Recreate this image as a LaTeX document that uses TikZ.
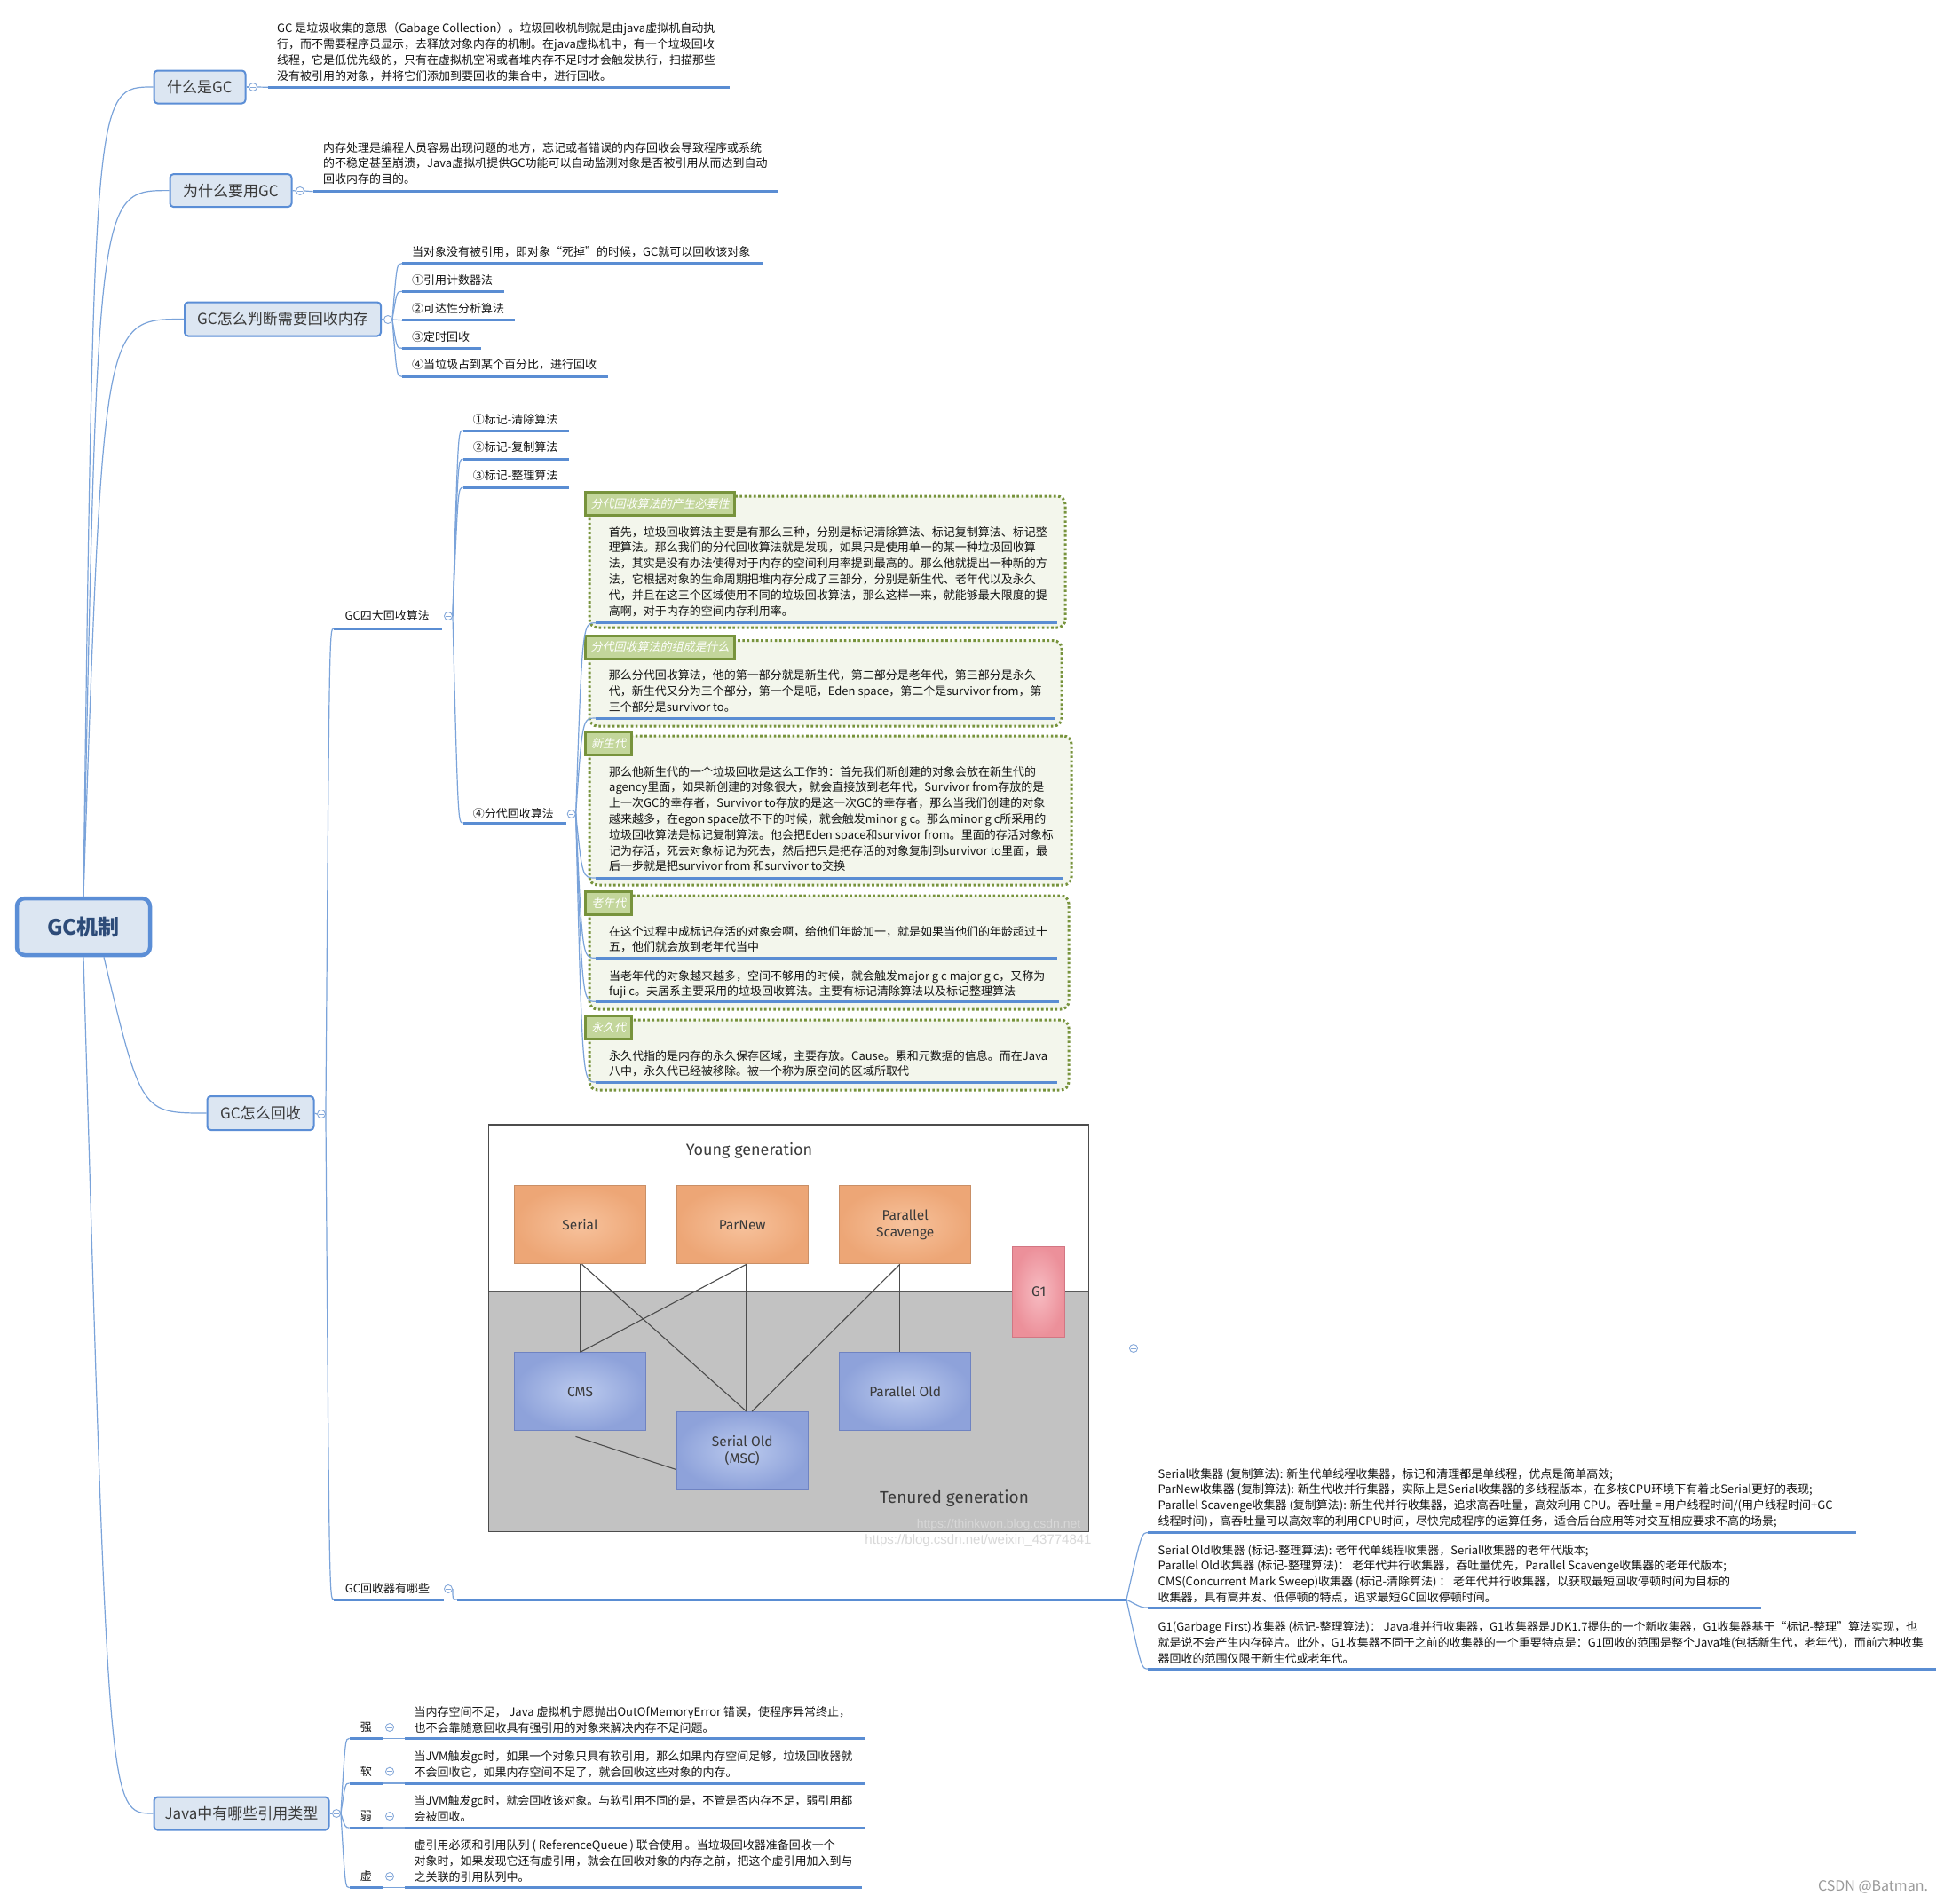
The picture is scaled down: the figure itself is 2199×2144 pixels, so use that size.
\documentclass[tikz,border=0pt]{standalone}
\usepackage{fontspec}
\setmainfont{Noto Sans CJK SC}
\newfontfamily\cjkit[FakeSlant=0.22]{Noto Sans CJK SC}
\newfontfamily\imgfont{Fira Sans}
\newfontfamily\wmfont{Liberation Sans}
\definecolor{linkc}{HTML}{7AA3DA}
\definecolor{ulc}{HTML}{5A8DD3}
\definecolor{boxf}{HTML}{DCE6F2}
\definecolor{boxd}{HTML}{5B8ED6}
\definecolor{roottext}{HTML}{2D4B78}
\definecolor{lbltext}{HTML}{3A3A3A}
\definecolor{desctext}{HTML}{141414}
\definecolor{togc}{HTML}{86A9DA}
\definecolor{bgreen}{HTML}{77933C}
\definecolor{bfill}{HTML}{F3F6EC}
\definecolor{lfill}{HTML}{C3D69B}
\definecolor{imggray}{HTML}{C2C2C2}
\definecolor{imgtext}{HTML}{3A3A3A}
\definecolor{orin}{HTML}{F7C29C}
\definecolor{orout}{HTML}{EDA676}
\definecolor{ord}{HTML}{C98F66}
\definecolor{blin}{HTML}{BBCAEE}
\definecolor{blout}{HTML}{8EA2DA}
\definecolor{bld}{HTML}{6F83C2}
\definecolor{pkin}{HTML}{F7BCC2}
\definecolor{pkout}{HTML}{EC909A}
\definecolor{pkd}{HTML}{D27683}
\definecolor{wmc}{HTML}{D8D8D8}
\newcommand\descfont{\fontsize{13}{17.8}\selectfont}
\newcommand\collfont{\fontsize{13}{17.8}\selectfont}
\begin{document}
\begin{tikzpicture}[x=1pt,y=-1pt,
  link/.style={draw=linkc, line width=1.2pt},
  ul/.style={draw=ulc, line width=3pt},
  rootbox/.style={draw=boxd, fill=boxf, line width=4.5pt, rounded corners=9pt,
    font=\fontsize{24}{26}\selectfont\bfseries, text=roottext, inner sep=0pt},
  lvlone/.style={draw=boxd, fill=boxf, line width=2pt, rounded corners=4pt,
    font=\fontsize{17}{19}\selectfont, text=lbltext, inner sep=0pt},
  tog/.style={circle, draw=togc, fill=white, line width=0.9pt, minimum size=9pt, inner sep=0pt,
    path picture={\draw[togc, line width=0.9pt] ([xshift=-2.6pt]path picture bounding box.center) -- ([xshift=2.6pt]path picture bounding box.center);}},
  item/.style={anchor=west, inner sep=0pt, font=\descfont, text=desctext},
  desc/.style={anchor=north west, inner sep=0pt, align=left, font=\descfont, text=desctext},
  coll/.style={anchor=north west, inner sep=0pt, align=left, font=\collfont, text=desctext},
  blabel/.style={draw=bgreen, fill=lfill, line width=3pt, inner sep=0pt,
    font=\cjkit\fontsize{13}{15}\selectfont, text=white},
  bound/.style={draw=bgreen, fill=bfill, line width=3pt, dash pattern=on 2.6pt off 2.6pt, rounded corners=9pt},
  obox/.style={draw=ord, line width=1pt, inner color=orin, outer color=orout,
    minimum width=148pt, minimum height=88pt, align=center,
    font=\imgfont\fontsize{15.5}{19}\selectfont, text=imgtext},
  bbox/.style={obox, draw=bld, inner color=blin, outer color=blout},
  iline/.style={draw=black!70, line width=1.1pt}
]
\useasboundingbox (0,0) rectangle (2199,2144);
\fill[white] (0,0) rectangle (2199,2144);

% ---------- boundaries (green dotted groups) ----------
\draw[bound] (664,559) rectangle (1200,707);
\draw[bound] (664,721.7) rectangle (1196,818);
\draw[bound] (664,829) rectangle (1207,997);
\draw[bound] (664,1009) rectangle (1204,1137);
\draw[bound] (664,1149) rectangle (1204,1228);
\node[blabel, minimum width=168pt, minimum height=26pt] (lab1) at (743.5,567.5) {分代回收算法的产生必要性};
\node[blabel, minimum width=168pt, minimum height=26pt] (lab2) at (743.5,729) {分代回收算法的组成是什么};
\node[blabel, minimum width=52pt, minimum height=26pt] (lab3) at (685.5,837.5) {新生代};
\node[blabel, minimum width=52pt, minimum height=26pt] (lab4) at (685.5,1017.5) {老年代};
\node[blabel, minimum width=52pt, minimum height=26pt] (lab5) at (685.5,1157.5) {永久代};

% ---------- root and level one ----------
\node[rootbox, minimum width=150pt, minimum height=64pt] (root) at (94,1044) {GC机制};
\node[lvlone, minimum width=103pt, minimum height=37pt] (n1) at (225,98) {什么是GC};
\node[lvlone, minimum width=137pt, minimum height=37pt] (n2) at (260,214.6) {为什么要用GC};
\node[lvlone, minimum width=221pt, minimum height=38pt] (n3) at (318.5,359.5) {GC怎么判断需要回收内存};
\node[lvlone, minimum width=120pt, minimum height=38pt] (n4) at (293.5,1254) {GC怎么回收};
\node[lvlone, minimum width=197pt, minimum height=37pt] (n5) at (272,2043) {Java中有哪些引用类型};

\draw[link] (root.north) .. controls (106,98) .. (n1.west);
\draw[link] (root.north) .. controls (110,214.6) .. (n2.west);
\draw[link] (root.north) .. controls (116,359.5) .. (n3.west);
\draw[link] ([xshift=23pt]root.south) .. controls (159,1254) .. (n4.west);
\draw[link] (root.south) .. controls (122,2043) .. (n5.west);

\node[tog] (t1) at (285,98) {};
\node[tog] (t2) at (338,215) {};
\node[tog] (t3) at (437,360) {};
\node[tog] (t4) at (362,1255) {};
\node[tog] (t5) at (379,2043) {};
\draw[link] (n1.east) -- (t1.west);
\draw[link] (n2.east) -- (t2.west);
\draw[link] (n3.east) -- (t3.west);
\draw[link] (n4.east) -- (t4.west);
\draw[link] (n5.east) -- (t5.west);

% ---------- 什么是GC ----------
\coordinate (d1s) at (302,98.3);
\draw[link] (t1.east) -- (d1s);
\draw[ul] (d1s) -- (822,98.3);
\node[desc] (d1) at (312,24.2) {\strut GC 是垃圾收集的意思（Gabage Collection）。垃圾回收机制就是由java虚拟机自动执\\行，而不需要程序员显示，去释放对象内存的机制。在java虚拟机中，有一个垃圾回收\\线程，它是低优先级的，只有在虚拟机空闲或者堆内存不足时才会触发执行，扫描那些\\没有被引用的对象，并将它们添加到要回收的集合中，进行回收。};

% ---------- 为什么要用GC ----------
\coordinate (d2s) at (352.5,215.7);
\draw[link] (t2.east) -- (d2s);
\draw[ul] (d2s) -- (876,215.7);
\node[desc] (d2) at (364,158.5) {\strut 内存处理是编程人员容易出现问题的地方，忘记或者错误的内存回收会导致程序或系统\\的不稳定甚至崩溃，Java虚拟机提供GC功能可以自动监测对象是否被引用从而达到自动\\回收内存的目的。};

% ---------- GC怎么判断需要回收内存 ----------
\coordinate (c1u) at (453,296.7);
\coordinate (c2u) at (453,328.3);
\coordinate (c3u) at (453,360.7);
\coordinate (c4u) at (453,392.3);
\coordinate (c5u) at (453,424.3);
\draw[link] (t3.east) .. controls (447,296.7) .. (c1u);
\draw[link] (t3.east) .. controls (447,328.3) .. (c2u);
\draw[link] (t3.east) .. controls (447,360.7) .. (c3u);
\draw[link] (t3.east) .. controls (447,392.3) .. (c4u);
\draw[link] (t3.east) .. controls (447,424.3) .. (c5u);
\draw[ul] (c1u) -- (858.6,296.7);
\draw[ul] (c2u) -- (567.5,328.3);
\draw[ul] (c3u) -- (580,360.7);
\draw[ul] (c4u) -- (541.6,392.3);
\draw[ul] (c5u) -- (684.5,424.3);
\node[item] (c1) at (464,283.3) {当对象没有被引用，即对象“死掉”的时候，GC就可以回收该对象};
\node[item] (c2) at (464,315.7) {①引用计数器法};
\node[item] (c3) at (464,347.3) {②可达性分析算法};
\node[item] (c4) at (464,379.3) {③定时回收};
\node[item] (c5) at (464,411) {④当垃圾占到某个百分比，进行回收};

% ---------- GC怎么回收 ----------
\coordinate (g1u) at (376,708);
\coordinate (g2u) at (376,1802);
\draw[link] (t4.east) .. controls (371,708) .. (g1u);
\draw[link] (t4.east) .. controls (371,1802) .. (g2u);
\draw[ul] (g1u) -- (498,708);
\draw[ul] (g2u) -- (500,1802);
\node[item] (g1) at (388.5,694) {GC四大回收算法};
\node[item] (g2) at (388.6,1790) {GC回收器有哪些};
\node[tog] (tg1) at (505,694) {};
\node[tog] (tg2) at (505,1790) {};

% algorithms
\coordinate (a1u) at (521.5,485);
\coordinate (a2u) at (521.5,517.3);
\coordinate (a3u) at (521.5,549.3);
\coordinate (a4u) at (521.5,927);
\draw[link] (tg1.east) .. controls (516,485) .. (a1u);
\draw[link] (tg1.east) .. controls (516,517.3) .. (a2u);
\draw[link] (tg1.east) .. controls (516,549.3) .. (a3u);
\draw[link] (tg1.east) .. controls (516,927) .. (a4u);
\draw[ul] (a1u) -- (641,485);
\draw[ul] (a2u) -- (641,517.3);
\draw[ul] (a3u) -- (641,549.3);
\draw[ul] (a4u) -- (638,927);
\node[item] (a1) at (532.7,472.3) {①标记-清除算法};
\node[item] (a2) at (532.7,504) {②标记-复制算法};
\node[item] (a3) at (532.7,536) {③标记-整理算法};
\node[item] (a4) at (532.7,917) {④分代回收算法};
\node[tog] (ta4) at (643.7,917) {};

% generational topics
\coordinate (b1u) at (671,701.7);
\coordinate (b2u) at (671,809);
\coordinate (b3u) at (671,989);
\coordinate (b4u) at (671,1079.3);
\coordinate (b5u) at (671,1128.3);
\coordinate (b6u) at (671,1219);
\draw[link] (ta4.east) .. controls (656,701.7) .. (b1u);
\draw[link] (ta4.east) .. controls (656,809) .. (b2u);
\draw[link] (ta4.east) .. controls (656,989) .. (b3u);
\draw[link] (ta4.east) .. controls (656,1079.3) .. (b4u);
\draw[link] (ta4.east) .. controls (656,1128.3) .. (b5u);
\draw[link] (ta4.east) .. controls (656,1219) .. (b6u);
\draw[ul] (b1u) -- (1191,701.7);
\draw[ul] (b2u) -- (1187.5,809);
\draw[ul] (b3u) -- (1197,989);
\draw[ul] (b4u) -- (1191,1079.3);
\draw[ul] (b5u) -- (1193,1128.3);
\draw[ul] (b6u) -- (1191,1219);
\node[desc] (b1) at (685.7,591.5) {\strut 首先，垃圾回收算法主要是有那么三种，分别是标记清除算法、标记复制算法、标记整\\理算法。那么我们的分代回收算法就是发现，如果只是使用单一的某一种垃圾回收算\\法，其实是没有办法使得对于内存的空间利用率提到最高的。那么他就提出一种新的方\\法，它根据对象的生命周期把堆内存分成了三部分，分别是新生代、老年代以及永久\\代，并且在这三个区域使用不同的垃圾回收算法，那么这样一来，就能够最大限度的提\\高啊，对于内存的空间内存利用率。};
\node[desc] (b2) at (685.7,753.2) {\strut 那么分代回收算法，他的第一部分就是新生代，第二部分是老年代，第三部分是永久\\代，新生代又分为三个部分，第一个是呃，Eden space，第二个是survivor from，第\\三个部分是survivor to。};
\node[desc] (b3) at (686,861.5) {\strut 那么他新生代的一个垃圾回收是这么工作的：首先我们新创建的对象会放在新生代的\\agency里面，如果新创建的对象很大，就会直接放到老年代，Survivor from存放的是\\上一次GC的幸存者，Survivor to存放的是这一次GC的幸存者，那么当我们创建的对象\\越来越多，在egon space放不下的时候，就会触发minor g c。那么minor g c所采用的\\垃圾回收算法是标记复制算法。他会把Eden space和survivor from。里面的存活对象标\\记为存活，死去对象标记为死去，然后把只是把存活的对象复制到survivor to里面，最\\后一步就是把survivor from 和survivor to交换};
\node[desc] (b4) at (686,1041.5) {\strut 在这个过程中成标记存活的对象会啊，给他们年龄加一，就是如果当他们的年龄超过十\\五，他们就会放到老年代当中};
\node[desc] (b5) at (686,1091.5) {\strut 当老年代的对象越来越多，空间不够用的时候，就会触发major g c major g c，又称为\\fuji c。夫居系主要采用的垃圾回收算法。主要有标记清除算法以及标记整理算法};
\node[desc] (b6) at (686,1181.5) {\strut 永久代指的是内存的永久保存区域，主要存放。Cause。累和元数据的信息。而在Java\\八中，永久代已经被移除。被一个称为原空间的区域所取代};

% ---------- collector picture ----------
\fill[white] (550.3,1267) rectangle (1226.3,1454.3);
\fill[imggray] (550.3,1454.3) rectangle (1226.3,1725.3);
\draw[black!65, line width=1.2pt] (550.3,1454.3) -- (1226.3,1454.3);
\node[inner sep=0pt, font=\imgfont\fontsize{18}{20}\selectfont, text=imgtext] (yg) at (844,1296) {Young generation};
\node[inner sep=0pt, font=\imgfont\fontsize{19}{21}\selectfont, text=imgtext] (tg) at (1075,1688) {Tenured generation};
\node[obox] (ser) at (653.5,1379.8) {Serial};
\node[obox] (pn) at (836.2,1379.8) {ParNew};
\node[obox] (ps) at (1019.7,1379.8) {Parallel\\Scavenge};
\node[bbox] (cms) at (653.5,1567.9) {CMS};
\node[bbox] (pold) at (1019.7,1567.9) {Parallel Old};
\node[bbox] (sold) at (836.2,1634.5) {Serial Old\\(MSC)};
\node[obox, draw=pkd, inner color=pkin, outer color=pkout, minimum width=59pt, minimum height=102pt] (g1box) at (1170.2,1455) {G1};
\draw[iline] (ser.south) -- (cms.north);
\draw[iline] ([xshift=2pt]ser.south) -- ([xshift=4.6pt]sold.north);
\draw[iline] ([xshift=4.6pt]pn.south) -- (cms.north);
\draw[iline] ([xshift=4.6pt]pn.south) -- ([xshift=4.6pt]sold.north);
\draw[iline] ([xshift=-6pt]ps.south) -- ([xshift=11pt]sold.north);
\draw[iline] ([xshift=-6pt]ps.south) -- ([xshift=-6pt]pold.north);
\draw[iline] ([xshift=-5pt,yshift=-6pt]cms.south) -- ([yshift=-21pt]sold.west);
\draw[black!70, line width=1.5pt] (550.3,1267) rectangle (1226.3,1725.3);
\node[inner sep=0pt, font=\wmfont\fontsize{14}{16}\selectfont, text=wmc] (wm1) at (1125,1718) {https://thinkwon.blog.csdn.net};
\node[inner sep=0pt, font=\wmfont\fontsize{15}{17}\selectfont, text=wmc] (wm2) at (1102,1736) {https://blog.csdn.net/weixin\_43774841};

% ---------- GC回收器有哪些 ----------
\coordinate (g2s) at (515,1802);
\coordinate (g2e) at (1269,1802);
\draw[link] (tg2.east) .. controls (510,1802) .. (g2s);
\draw[ul] (g2s) -- (g2e);
\node[tog] (timg) at (1277,1519) {};
\coordinate (kAu) at (1293,1726.7);
\coordinate (kBu) at (1293,1811);
\coordinate (kCu) at (1293,1880);
\draw[link] (g2e) .. controls (1286,1726.7) .. (kAu);
\draw[link] (g2e) .. controls (1286,1811) .. (kBu);
\draw[link] (g2e) .. controls (1286,1880) .. (kCu);
\draw[ul] (kAu) -- (2091,1726.7);
\draw[ul] (kBu) -- (1983.6,1811);
\draw[ul] (kCu) -- (2181,1880);
\node[coll] (kA) at (1304.5,1652.5) {\strut Serial收集器 (复制算法): 新生代单线程收集器，标记和清理都是单线程，优点是简单高效;\\ParNew收集器 (复制算法): 新生代收并行集器，实际上是Serial收集器的多线程版本，在多核CPU环境下有着比Serial更好的表现;\\Parallel Scavenge收集器 (复制算法): 新生代并行收集器，追求高吞吐量，高效利用 CPU。吞吐量 = 用户线程时间/(用户线程时间+GC\\线程时间)，高吞吐量可以高效率的利用CPU时间，尽快完成程序的运算任务，适合后台应用等对交互相应要求不高的场景;};
\node[coll] (kB) at (1304.5,1738.5) {\strut Serial Old收集器 (标记-整理算法): 老年代单线程收集器，Serial收集器的老年代版本;\\Parallel Old收集器 (标记-整理算法)： 老年代并行收集器，吞吐量优先，Parallel Scavenge收集器的老年代版本;\\CMS(Concurrent Mark Sweep)收集器 (标记-清除算法) ： 老年代并行收集器，以获取最短回收停顿时间为目标的\\收集器，具有高并发、低停顿的特点，追求最短GC回收停顿时间。};
\node[coll] (kC) at (1304.5,1825.2) {\strut G1(Garbage First)收集器 (标记-整理算法)： Java堆并行收集器，G1收集器是JDK1.7提供的一个新收集器，G1收集器基于“标记-整理”算法实现，也\\就是说不会产生内存碎片。此外，G1收集器不同于之前的收集器的一个重要特点是：G1回收的范围是整个Java堆(包括新生代，老年代)，而前六种收集\\器回收的范围仅限于新生代或老年代。};

% ---------- Java references ----------
\coordinate (r1u) at (393.6,1958.3);
\coordinate (r2u) at (393.6,2009);
\coordinate (r3u) at (393.6,2059);
\coordinate (r4u) at (393.6,2126.7);
\draw[link] (t5.east) .. controls (389,1958.3) .. (r1u);
\draw[link] (t5.east) .. controls (389,2009) .. (r2u);
\draw[link] (t5.east) .. controls (389,2059) .. (r3u);
\draw[link] (t5.east) .. controls (389,2126.7) .. (r4u);
\coordinate (r1e) at (430.6,1958.3);
\coordinate (r2e) at (430.6,2009);
\coordinate (r3e) at (430.6,2059);
\coordinate (r4e) at (430.6,2126.7);
\coordinate (r1d) at (456,1958.3);
\coordinate (r2d) at (456,2009);
\coordinate (r3d) at (456,2059);
\coordinate (r4d) at (456,2126.7);
\draw[ul] (r1u) -- (r1e);
\draw[ul] (r2u) -- (r2e);
\draw[ul] (r3u) -- (r3e);
\draw[ul] (r4u) -- (r4e);
\draw[link] (r1e) -- (r1d);
\draw[link] (r2e) -- (r2d);
\draw[link] (r3e) -- (r3d);
\draw[link] (r4e) -- (r4d);
\draw[ul] (r1d) -- (975,1958.3);
\draw[ul] (r2d) -- (975,2009);
\draw[ul] (r3d) -- (975,2059);
\draw[ul] (r4d) -- (971,2126.7);
\node[inner sep=0pt, font=\descfont, text=desctext] (r1) at (412.3,1946) {强};
\node[inner sep=0pt, font=\descfont, text=desctext] (r2) at (412.3,1995.7) {软};
\node[inner sep=0pt, font=\descfont, text=desctext] (r3) at (412.3,2046) {弱};
\node[inner sep=0pt, font=\descfont, text=desctext] (r4) at (412.3,2114) {虚};
\node[tog] (tr1) at (439,1946) {};
\node[tog] (tr2) at (439,1995.7) {};
\node[tog] (tr3) at (439,2046) {};
\node[tog] (tr4) at (439,2114) {};
\node[desc] (rd1) at (466.4,1920.8) {\strut 当内存空间不足， Java 虚拟机宁愿抛出OutOfMemoryError 错误，使程序异常终止，\\也不会靠随意回收具有强引用的对象来解决内存不足问题。};
\node[desc] (rd2) at (466.4,1970.8) {\strut 当JVM触发gc时，如果一个对象只具有软引用，那么如果内存空间足够，垃圾回收器就\\不会回收它，如果内存空间不足了，就会回收这些对象的内存。};
\node[desc] (rd3) at (466.4,2020.8) {\strut 当JVM触发gc时，就会回收该对象。与软引用不同的是，不管是否内存不足，弱引用都\\会被回收。};
\node[desc] (rd4) at (466.4,2070.8) {\strut 虚引用必须和引用队列 ( ReferenceQueue ) 联合使用 。当垃圾回收器准备回收一个\\对象时，如果发现它还有虚引用，就会在回收对象的内存之前，把这个虚引用加入到与\\之关联的引用队列中。};

% ---------- watermark ----------
\node[inner sep=0pt, font=\fontsize{16}{18}\selectfont, text=black!40] (csdn) at (2110,2126) {CSDN @Batman.};
\end{tikzpicture}
\end{document}
